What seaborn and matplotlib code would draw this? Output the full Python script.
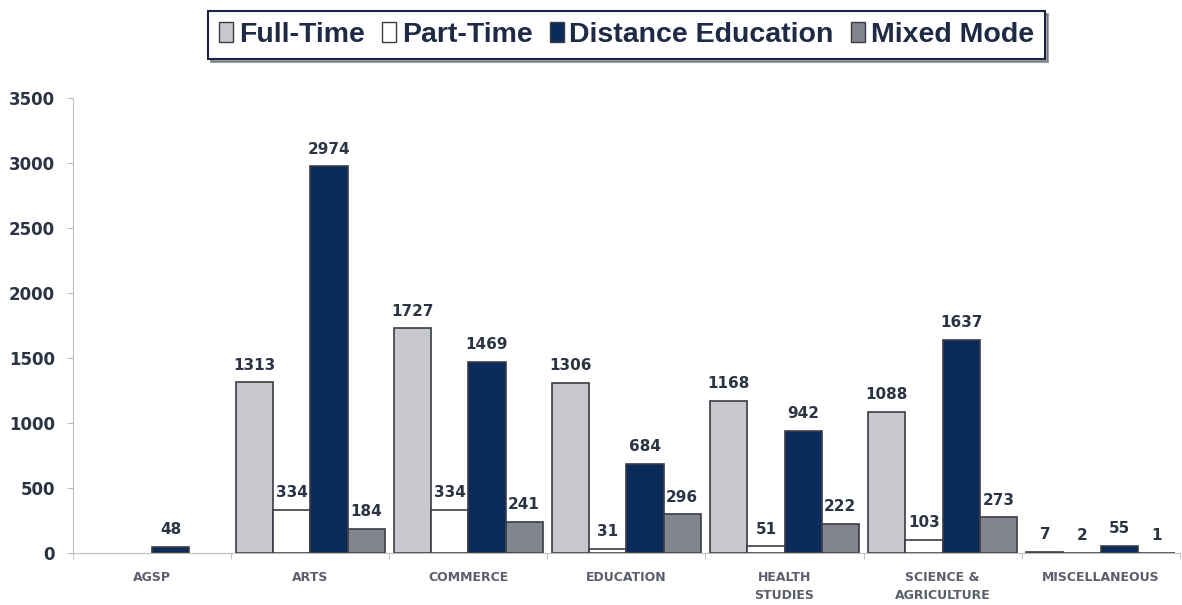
import numpy as np
import pandas as pd
import matplotlib
matplotlib.use("Agg")
import matplotlib.pyplot as plt
import seaborn as sns

# dados
faculdades = ['AGSP', 'ARTS', 'COMMERCE', 'EDUCATION', 'HEALTH\nSTUDIES',
              'SCIENCE &\nAGRICULTURE', 'MISCELLANEOUS']
modos = ['Full-Time', 'Part-Time', 'Distance Education', 'Mixed Mode']
full_time = [np.nan, 1313, 1727, 1306, 1168, 1088, 7]
part_time = [np.nan, 334, 334, 31, 51, 103, 2]
distance = [48, 2974, 1469, 684, 942, 1637, 55]
mixed = [np.nan, 184, 241, 296, 222, 273, 1]
cores = ['#c8c9cd', '#ffffff', '#0b2b5b', '#83858e']

df = pd.DataFrame({'faculdade': faculdades * 4,
                   'modo': np.repeat(modos, len(faculdades)),
                   'valor': full_time + part_time + distance + mixed})
df = df.dropna()

sns.set_style('white')
plt.rcParams['font.family'] = ['DejaVu Sans']

fig = plt.figure(figsize=(11.82, 6.05), dpi=100)
ax = fig.add_axes([0.062, 0.086, 0.936, 0.752])

sns.barplot(data=df, x='faculdade', y='valor', hue='modo', hue_order=modos,
            order=faculdades, palette=cores, width=0.94, gap=0,
            edgecolor='#3a3d45', linewidth=1.2, saturation=1, ax=ax,
            legend=False)

cor_texto = '#2c3444'
for cont in ax.containers:
    ax.bar_label(cont, fmt='{:.0f}', padding=7, fontsize=11,
                 fontweight='bold', color=cor_texto)

ax.set_ylim(0, 3500)
ax.set_xlim(-0.5, 6.5)
ax.set_yticks(range(0, 3501, 500))
ax.set_xlabel('')
ax.set_ylabel('')
for t in ax.get_yticklabels():
    t.set_fontweight('bold')
    t.set_fontsize(12)
    t.set_color(cor_texto)
for t in ax.get_xticklabels():
    t.set_fontweight('bold')
    t.set_fontsize(9)
    t.set_color('#5a5f6a')
    t.set_linespacing(1.5)
ax.tick_params(axis='y', length=4, color='#bbbbbb', pad=9, left=True)
ax.tick_params(axis='x', length=0, pad=13)
ax.set_xticks(np.arange(-0.5, 7, 1), minor=True)
ax.tick_params(axis='x', which='minor', length=4, color='#bbbbbb', bottom=True)

sns.despine(ax=ax, top=True, right=True)
ax.spines['left'].set_color('#c0c0c0')
ax.spines['bottom'].set_color('#c0c0c0')

handles = [plt.Rectangle((0, 0), 1, 1, facecolor=c, edgecolor='#3a3d45', linewidth=1)
           for c in cores]
leg = fig.legend(handles, modos, loc='upper center', bbox_to_anchor=(0.53, 1.005),
                 ncol=4, frameon=True, shadow=True, fancybox=False,
                 handlelength=0.5, handleheight=0.7, handletextpad=0.2,
                 columnspacing=0.6, borderpad=0.38,
                 prop={'family': 'Liberation Sans', 'weight': 'bold', 'size': 20.5})
leg.get_frame().set_edgecolor('#1a2440')
leg.get_frame().set_linewidth(1.5)
for t in leg.get_texts():
    t.set_color('#1e2a46')

plt.savefig('out.png', dpi=100)
plt.close()
